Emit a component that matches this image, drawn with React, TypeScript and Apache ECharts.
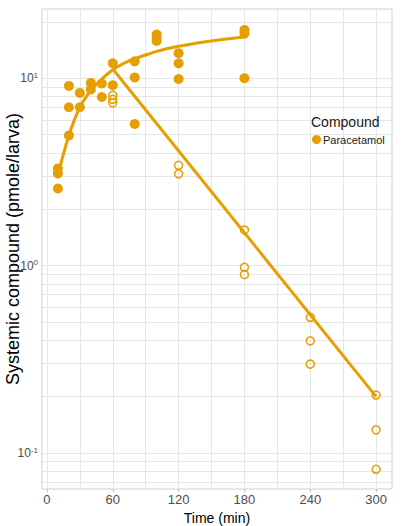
import React, { useEffect, useRef } from 'react';
import * as echarts from 'echarts';

const ORANGE = '#E69F00';
const SANS = "'Liberation Sans', Arial, sans-serif";

// Axis ticks and grid positions
const timeTicks = [0, 60, 120, 180, 240, 300];
const timeGrid = [0, 30, 60, 90, 120, 150, 180, 210, 240, 270, 300];
const concTicks = [0.1, 1, 10];
const concGrid = [0.07, 0.08, 0.09, 0.1, 0.2, 0.3, 0.4, 0.5, 0.6, 0.7, 0.8, 0.9, 1, 2, 3, 4, 5, 6, 7, 8, 9, 10, 20];

// Measured amounts (filled symbols)
const filledTimes = [10, 10, 10, 20, 20, 20, 30, 30, 40, 40, 50, 50, 60, 60, 80, 80, 80, 100, 100, 100, 120, 120, 120, 180, 180, 180];
const filledValues = [3.3, 3.1, 2.58, 9.1, 7.0, 4.95, 8.35, 7.0, 9.44, 8.7, 9.37, 7.94, 12.0, 9.18, 12.3, 10.1, 5.7, 17.1, 16.4, 15.8, 13.6, 12.0, 9.9, 18.1, 17.3, 10.0];

// Measured amounts (open symbols)
const openTimes = [60, 60, 60, 120, 120, 180, 180, 180, 240, 240, 240, 300, 300, 300];
const openValues = [8.11, 7.72, 7.38, 3.43, 3.09, 1.55, 0.98, 0.895, 0.53, 0.397, 0.298, 0.204, 0.133, 0.0819];

// Fitted uptake curve
const uptakeTimes = [10, 20, 30, 40, 50, 60, 70, 80, 90, 100, 110, 120, 140, 160, 180];
const uptakeValues = [3.05, 4.95, 7.0, 8.6, 9.9, 11.1, 12.0, 12.7, 13.3, 13.9, 14.4, 14.8, 15.5, 16.1, 16.6];

// Fitted elimination line
const decayTimes = [60, 300];
const decayValues = [11.2, 0.2];

const zip = (xs: number[], ys: number[]) => xs.map((x, i) => [x, ys[i]]);

export default function App() {
  const ref = useRef<HTMLDivElement>(null);

  useEffect(() => {
    if (!ref.current) return;
    const chart = echarts.init(ref.current, null, { renderer: 'svg' });

    const gridLines = [
      ...timeGrid.map((v) => ({ xAxis: v })),
      ...concGrid.map((v) => ({ yAxis: v })),
    ];

    chart.setOption({
      animation: false,
      backgroundColor: '#ffffff',
      grid: {
        left: 42,
        right: 13,
        top: 9,
        bottom: 37,
        outerBoundsMode: 'none',
        containLabel: false,
        show: true,
        borderColor: '#cfcfcf',
        borderWidth: 1,
        backgroundColor: '#ffffff',
      },
      legend: {
        data: [{ name: 'Paracetamol', icon: 'circle' }],
        left: 312,
        top: 134,
        itemWidth: 9,
        itemHeight: 9,
        padding: 0,
        z: 20,
        textStyle: { fontSize: 11, color: '#1a1a1a', fontFamily: SANS, padding: [0, 0, 0, -3] },
      },
      graphic: [
        {
          type: 'text',
          left: 311,
          top: 115,
          z: 100,
          style: { text: 'Compound', fontSize: 14, fill: '#1a1a1a', fontFamily: SANS },
        },
      ],
      xAxis: {
        type: 'value',
        min: -4.5,
        max: 314.5,
        name: 'Time (min)',
        nameLocation: 'middle',
        nameGap: 18,
        nameTextStyle: { fontSize: 14, color: '#000', fontFamily: SANS },
        axisLine: { show: false },
        splitLine: { show: false },
        axisTick: {
          show: true,
          customValues: timeTicks,
          length: 3,
          lineStyle: { color: '#bdbdbd' },
        },
        axisLabel: {
          customValues: timeTicks,
          fontSize: 13,
          color: '#4d4d4d',
          fontFamily: SANS,
          margin: 4,
        },
      },
      yAxis: {
        type: 'log',
        logBase: 10,
        min: 0.0643,
        max: 23.4,
        name: 'Systemic compound (pmole/larva)',
        nameLocation: 'middle',
        nameGap: 20,
        nameMoveOverlap: false,
        nameTextStyle: { fontSize: 18, color: '#000', fontFamily: SANS },
        axisLine: { show: false },
        splitLine: { show: false },
        minorSplitLine: { show: false },
        axisTick: {
          show: true,
          customValues: concTicks,
          length: 2,
          lineStyle: { color: '#bdbdbd' },
        },
        axisLabel: {
          customValues: concTicks,
          margin: 4,
          color: '#4d4d4d',
          fontFamily: SANS,
          formatter: (v: number) => `{b|10}{s|${Math.round(Math.log10(v))}}`,
          rich: {
            b: { fontSize: 12, color: '#4d4d4d', fontFamily: SANS, lineHeight: 14 },
            s: { fontSize: 8, color: '#4d4d4d', fontFamily: SANS, verticalAlign: 'top', lineHeight: 8 },
          },
        },
      },
      series: [
        {
          name: 'grid',
          type: 'line',
          data: [],
          silent: true,
          markLine: {
            silent: true,
            z: 1,
            symbol: ['none', 'none'],
            label: { show: false },
            lineStyle: { color: '#e6e6e6', width: 1, type: 'solid' },
            emphasis: { disabled: true },
            data: gridLines,
          },
        },
        {
          name: 'Uptake fit',
          type: 'line',
          data: zip(uptakeTimes, uptakeValues),
          smooth: 0.3,
          showSymbol: false,
          lineStyle: { color: ORANGE, width: 3 },
          itemStyle: { color: ORANGE },
          z: 3,
        },
        {
          name: 'Elimination fit',
          type: 'line',
          data: zip(decayTimes, decayValues),
          showSymbol: false,
          lineStyle: { color: ORANGE, width: 3 },
          itemStyle: { color: ORANGE },
          z: 3,
        },
        {
          name: 'Paracetamol',
          type: 'scatter',
          data: zip(filledTimes, filledValues),
          symbol: 'circle',
          symbolSize: 10,
          itemStyle: { color: ORANGE, opacity: 1 },
          z: 4,
        },
        {
          name: 'Paracetamol open',
          type: 'scatter',
          data: zip(openTimes, openValues),
          symbol: 'circle',
          symbolSize: 8,
          itemStyle: { color: 'rgba(255,255,255,0)', borderColor: ORANGE, borderWidth: 1.5, opacity: 1 },
          z: 4,
        },
      ],
    });

    return () => chart.dispose();
  }, []);

  return (
    <div
      ref={ref}
      style={{ position: 'absolute', left: 0, top: 0, width: 405, height: 526 }}
    />
  );
}
